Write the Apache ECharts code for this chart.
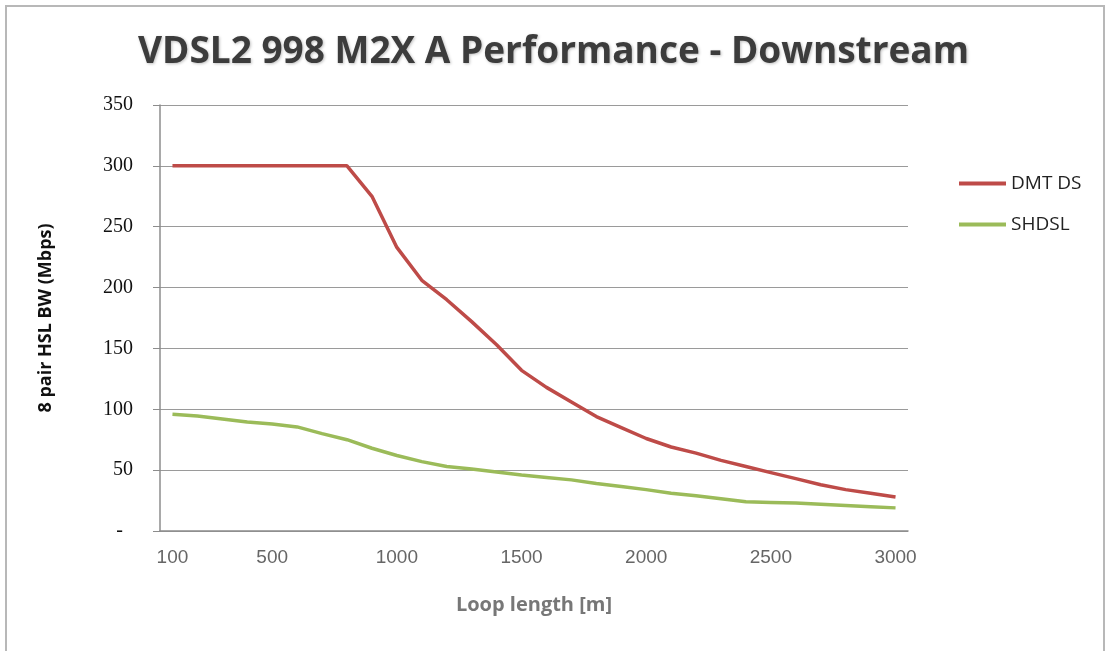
<!DOCTYPE html>
<html>
<head>
<meta charset="utf-8">
<script src="https://cdn.jsdelivr.net/npm/echarts@6/dist/echarts.min.js"></script>
<style>
  html, body { margin: 0; padding: 0; background: #fff; }
  #main { width: 1107px; height: 651px; }
</style>
</head>
<body>
<div id="main"></div>
<script>
// loop length categories (m)
var loopLength = ['100', '200', '300', '400', '500', '600', '700', '800', '900', '1000',
  '1100', '1200', '1300', '1400', '1500', '1600', '1700', '1800', '1900', '2000',
  '2100', '2200', '2300', '2400', '2500', '2600', '2700', '2800', '2900', '3000'];

// labels Excel shows on the axis
var shownLabels = ['100', '500', '1000', '1500', '2000', '2500', '3000'];

// Mbps
var dmtDS = [300, 300, 300, 300, 300, 300, 300, 300, 275, 233,
  206, 190, 172, 153, 132, 118, 106, 94, 85, 76,
  69, 64, 58, 53, 48, 43, 38, 34, 31, 28];

var shdsl = [96, 94.5, 92, 89.5, 88, 85.5, 80, 75, 68, 62,
  57, 53, 51, 48.5, 46, 44, 42, 39, 36.5, 34,
  31, 29, 26.5, 24, 23.5, 23, 22, 21, 20, 19];

var chart = echarts.init(document.getElementById('main'));

var option = {
  backgroundColor: '#ffffff',
  animation: false,
  color: ['#BE4B48', '#9BBB59'],
  title: {
    text: 'VDSL2 998 M2X A Performance - Downstream',
    left: 'center',
    top: 29,
    textStyle: {
      fontFamily: '"Open Sans", sans-serif',
      fontWeight: 'bold',
      fontSize: 37,
      color: '#3c3c3c',
      textShadowColor: 'rgba(0,0,0,0.25)',
      textShadowBlur: 3,
      textShadowOffsetX: 1,
      textShadowOffsetY: 1
    }
  },
  graphic: [{
    type: 'rect',
    shape: { x: 6, y: 6, width: 1098, height: 660 },
    style: { fill: 'none', stroke: '#b8b8b8', lineWidth: 2 },
    silent: true
  }],
  legend: {
    orient: 'vertical',
    left: 954,
    top: 169,
    itemWidth: 47,
    itemHeight: 4,
    itemGap: 22,
    icon: 'rect',
    textStyle: {
      fontFamily: '"Open Sans", sans-serif',
      fontSize: 19,
      color: '#222'
    },
    data: ['DMT DS', 'SHDSL']
  },
  grid: {
    left: 160,
    right: 199,
    top: 105,
    bottom: 120
  },
  xAxis: {
    type: 'category',
    data: loopLength,
    boundaryGap: true,
    name: 'Loop length [m]',
    nameLocation: 'middle',
    nameGap: 64,
    nameTextStyle: {
      fontFamily: '"Open Sans", sans-serif',
      fontWeight: 'bold',
      fontSize: 20,
      color: '#777'
    },
    axisLine: { lineStyle: { color: '#8c8c8c', width: 1.5 } },
    axisTick: { show: false },
    axisLabel: {
      interval: function (idx, val) { return shownLabels.indexOf(val) >= 0; },
      margin: 17,
      fontFamily: '"Liberation Sans", sans-serif',
      fontSize: 19,
      color: '#666'
    }
  },
  yAxis: {
    type: 'value',
    min: 0,
    max: 350,
    interval: 50,
    name: '8 pair HSL BW (Mbps)',
    nameLocation: 'middle',
    nameGap: 105,
    nameTextStyle: {
      fontFamily: '"Open Sans", sans-serif',
      fontWeight: 'bold',
      fontSize: 18,
      color: '#111'
    },
    axisLine: { show: true, lineStyle: { color: '#8c8c8c', width: 1.5 } },
    axisTick: { show: true, length: 7, lineStyle: { color: '#8c8c8c' } },
    splitLine: { lineStyle: { color: '#9a9a9a', width: 1.2 } },
    axisLabel: {
      margin: 27,
      fontFamily: '"Liberation Serif", serif',
      fontSize: 20,
      color: '#111',
      formatter: function (v) { return v === 0 ? '-  ' : String(v); }
    }
  },
  series: [{
    name: 'DMT DS',
    type: 'line',
    data: dmtDS,
    symbol: 'none',
    lineStyle: { width: 3.5 }
  }, {
    name: 'SHDSL',
    type: 'line',
    data: shdsl,
    symbol: 'none',
    lineStyle: { width: 3.5 }
  }]
};

chart.setOption(option);
</script>
</body>
</html>
